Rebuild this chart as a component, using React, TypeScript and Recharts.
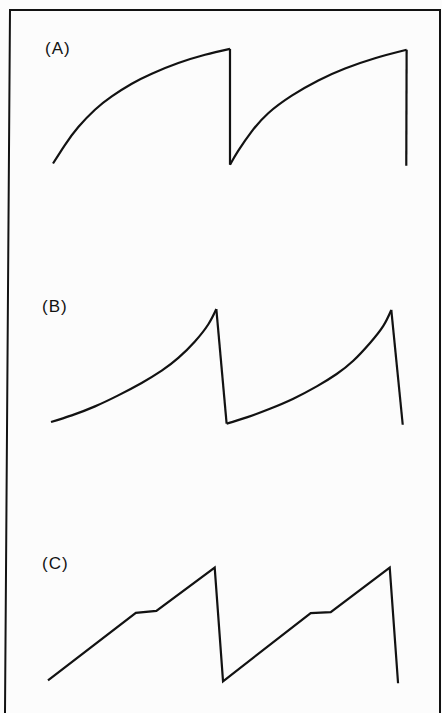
import { LineChart, Line, XAxis, YAxis } from 'recharts'

type Pt = { t: number; v: number }

// time in tenths of a period, amplitude 0..10
const aRise1: Pt[] = [
  { t: 0, v: 0.1 }, { t: 0.68, v: 1.7 }, { t: 1.43, v: 3.22 }, { t: 2.37, v: 4.7 },
  { t: 3.32, v: 5.84 }, { t: 4.45, v: 6.92 }, { t: 5.58, v: 7.78 }, { t: 7.08, v: 8.69 },
  { t: 8.59, v: 9.4 }, { t: 10, v: 9.9 },
]
const aRise2: Pt[] = [
  { t: 10, v: 0 }, { t: 10.47, v: 1.2 }, { t: 11.23, v: 2.85 }, { t: 12.16, v: 4.4 },
  { t: 13.49, v: 5.9 }, { t: 14.99, v: 7.2 }, { t: 16.5, v: 8.22 }, { t: 18.19, v: 9.1 },
  { t: 19.98, v: 9.82 },
]
const aEnd: Pt = { t: 19.96, v: -0.09 }

const bRise1: Pt[] = [
  { t: 0, v: 0.15 }, { t: 1.25, v: 0.71 }, { t: 2.65, v: 1.48 }, { t: 4.05, v: 2.42 },
  { t: 5.46, v: 3.48 }, { t: 6.67, v: 4.53 }, { t: 7.67, v: 5.62 }, { t: 8.67, v: 7.03 },
  { t: 9.48, v: 8.5 }, { t: 9.96, v: 9.8 },
]
const bRise2: Pt[] = [
  { t: 10.58, v: 0 }, { t: 11.79, v: 0.54 }, { t: 13.19, v: 1.28 }, { t: 14.6, v: 2.14 },
  { t: 16.01, v: 3.19 }, { t: 17.21, v: 4.25 }, { t: 18.21, v: 5.38 }, { t: 19.22, v: 6.9 },
  { t: 20.02, v: 8.36 }, { t: 20.5, v: 9.72 },
]
const bEnd: Pt = { t: 21.19, v: -0.09 }

const cWave: Pt[] = [
  { t: 0, v: 0.1 }, { t: 5.27, v: 5.97 }, { t: 6.5, v: 6.14 }, { t: 10, v: 9.9 },
  { t: 10.5, v: 0.02 }, { t: 15.76, v: 5.94 }, { t: 16.96, v: 6.03 }, { t: 20.5, v: 9.9 },
  { t: 21, v: -0.15 },
]

const T_DOMAIN: [number, number] = [0, 22]
const V_DOMAIN: [number, number] = [-1, 11]
const INK = '#121212'
const PAD = 5

type PanelProps = {
  label: string
  labelTop: number
  labelLeft: number
  x0: number
  y0: number
  sx: number
  sy: number
  curves: Pt[][]
  lines: Pt[][]
}

function Panel({ label, labelTop, labelLeft, x0, y0, sx, sy, curves, lines }: PanelProps) {
  const w = (T_DOMAIN[1] - T_DOMAIN[0]) * sx
  const h = (V_DOMAIN[1] - V_DOMAIN[0]) * sy
  const left = x0 - T_DOMAIN[0] * sx - PAD
  const top = y0 - V_DOMAIN[1] * sy - PAD
  return (
    <>
      <div
        style={{
          position: 'absolute', left: labelLeft, top: labelTop,
          fontFamily: '"Liberation Sans", Arial, sans-serif', fontSize: 17,
          lineHeight: 1, letterSpacing: 1, color: INK,
        }}
      >
        {label}
      </div>
      <div style={{ position: 'absolute', left, top }}>
        <LineChart
          width={w + PAD * 2}
          height={h + PAD * 2}
          margin={{ top: PAD, right: PAD, bottom: PAD, left: PAD }}
        >
          <XAxis type="number" dataKey="t" domain={T_DOMAIN} hide />
          <YAxis type="number" dataKey="v" domain={V_DOMAIN} hide />
          {curves.map((d, i) => (
            <Line
              key={'c' + i}
              data={d}
              dataKey="v"
              type="natural"
              stroke={INK}
              strokeWidth={2.2}
              dot={false}
              isAnimationActive={false}
            />
          ))}
          {lines.map((d, i) => (
            <Line
              key={'l' + i}
              data={d}
              dataKey="v"
              type="linear"
              stroke={INK}
              strokeWidth={2.2}
              dot={false}
              isAnimationActive={false}
            />
          ))}
        </LineChart>
      </div>
    </>
  )
}

export default function App() {
  return (
    <div
      style={{
        position: 'absolute', left: 0, top: 0, width: 442, height: 713,
        background: '#fcfcfc', overflow: 'hidden',
      }}
    >
      <svg width={442} height={713} style={{ position: 'absolute', left: 0, top: 0 }}>
        <polyline
          points="5,713 10,10 440,10 440,713"
          fill="none"
          stroke={INK}
          strokeWidth={2}
        />
      </svg>
      <Panel
        label="(A)"
        labelLeft={45}
        labelTop={40}
        x0={53}
        y0={165}
        sx={17.7}
        sy={11.7}
        curves={[aRise1, aRise2]}
        lines={[
          [aRise1[aRise1.length - 1], aRise2[0]],
          [aRise2[aRise2.length - 1], aEnd],
        ]}
      />
      <Panel
        label="(B)"
        labelLeft={42}
        labelTop={298}
        x0={51}
        y0={424}
        sx={16.6}
        sy={11.7}
        curves={[bRise1, bRise2]}
        lines={[
          [bRise1[bRise1.length - 1], bRise2[0]],
          [bRise2[bRise2.length - 1], bEnd],
        ]}
      />
      <Panel
        label="(C)"
        labelLeft={42}
        labelTop={555}
        x0={48.3}
        y0={681}
        sx={16.67}
        sy={11.5}
        curves={[]}
        lines={[cWave]}
      />
    </div>
  )
}
